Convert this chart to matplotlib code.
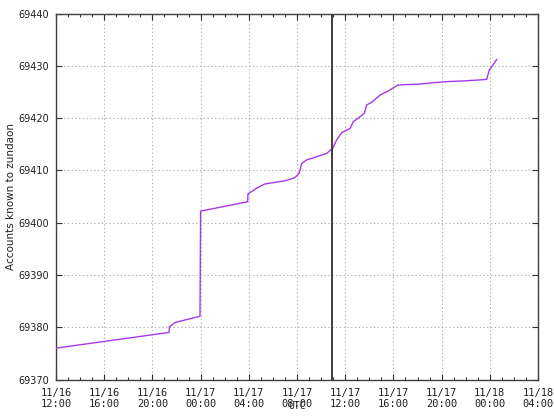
import matplotlib
matplotlib.use("Agg")
import matplotlib.pyplot as plt
from matplotlib.ticker import MultipleLocator

# hours since 11/16 12:00 UTC
hours = [0.0, 9.38, 9.42, 9.88, 11.95, 12.0, 15.91, 15.93, 16.66, 17.34, 19.0, 19.83,
         20.17, 20.39, 20.8, 21.49, 22.27, 22.46, 22.96, 23.29, 23.71, 24.4, 24.67,
         25.23, 25.58, 25.78, 26.2, 26.89, 27.58, 28.36, 28.96, 30.2, 31.45, 32.7,
         33.8, 35.19, 35.74, 35.96, 36.16, 36.57]
accounts = [69376.0, 69379.0, 69380.1, 69380.9, 69382.1, 69402.2, 69404.0, 69405.5,
            69406.6, 69407.4, 69408.0, 69408.6, 69409.4, 69411.3, 69412.0, 69412.5,
            69413.1, 69413.25, 69414.2, 69415.8, 69417.2, 69418.0, 69419.3, 69420.25,
            69420.9, 69422.5, 69423.0, 69424.4, 69425.2, 69426.3, 69426.4, 69426.5,
            69426.8, 69427.0, 69427.1, 69427.3, 69427.4, 69429.2, 69429.8, 69431.2]
now_hour = 22.9

xtick_hours = [0, 4, 8, 12, 16, 20, 24, 28, 32, 36, 40]
xtick_labels = ["11/16\n12:00", "11/16\n16:00", "11/16\n20:00", "11/17\n00:00",
                "11/17\n04:00", "11/17\n08:00", "11/17\n12:00", "11/17\n16:00",
                "11/17\n20:00", "11/18\n00:00", "11/18\n04:00"]
yticks = [69370, 69380, 69390, 69400, 69410, 69420, 69430, 69440]

fig = plt.figure(figsize=(5.54, 4.16), dpi=100)
ax = fig.add_axes([56/554, (416-379.5)/416, (538-56)/554, (379.5-13.5)/416])

ax.plot(hours, accounts, color="#a838e8", lw=1.0, zorder=3)
ax.axvline(now_hour, color="#303030", lw=1.3, zorder=4)

ax.set_xlim(0, 40)
ax.set_ylim(69370, 69440)
ax.set_xticks(xtick_hours)
ax.set_xticklabels(xtick_labels, family="DejaVu Sans Mono", fontsize=7.5, color="#202020",
                   linespacing=1.15)
ax.set_yticks(yticks)
ax.set_yticklabels([str(v) for v in yticks], family="DejaVu Sans", fontsize=7, color="#202020")
ax.xaxis.set_minor_locator(MultipleLocator(1))

ax.tick_params(axis="both", which="both", direction="in", top=True, right=True,
               color="#303030")
ax.tick_params(axis="both", which="major", length=4, width=0.8)
ax.tick_params(axis="x", which="major", pad=6)
ax.tick_params(axis="y", which="major", pad=5)
ax.tick_params(axis="x", which="minor", length=2.5, width=0.8)

ax.grid(True, which="major", color="#b0b0b0", linestyle=(0, (1.2, 2.2)), lw=0.8)
for s in ax.spines.values():
    s.set_color("#404040")
    s.set_linewidth(1.0)

ax.set_ylabel("Accounts known to zundaon", family="DejaVu Sans", fontsize=7.5,
              color="#202020", labelpad=2)
ax.set_xlabel("UTC", family="DejaVu Sans Mono", fontsize=7, color="#202020", labelpad=-6)

fig.savefig("out.png", dpi=100)
